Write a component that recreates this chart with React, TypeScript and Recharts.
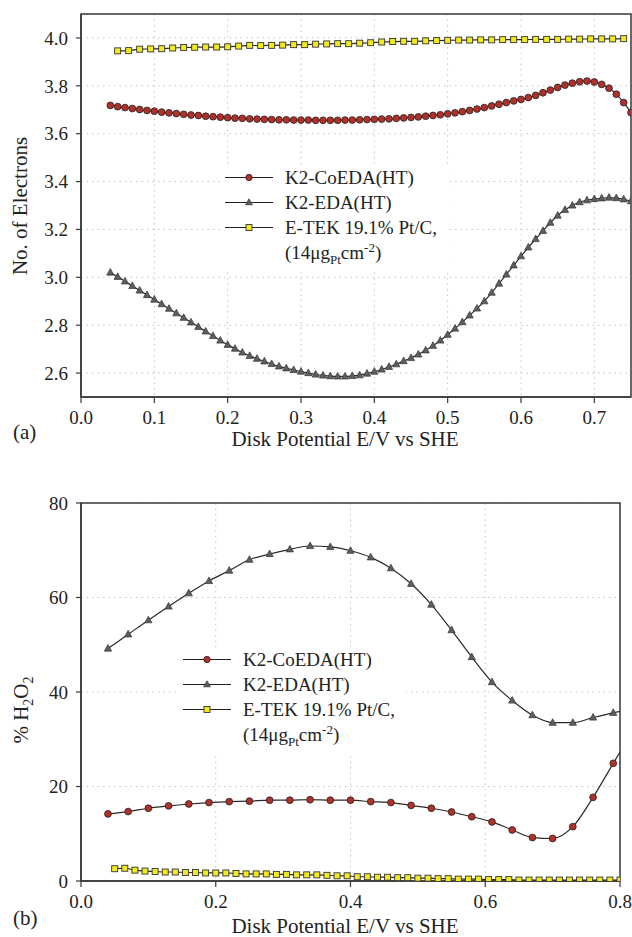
import React from 'react';
import {
  LineChart,
  Line,
  XAxis,
  YAxis,
  CartesianGrid,
  ReferenceArea,
  Legend,
} from 'recharts';

const FONT = 'Liberation Serif, Times New Roman, Times, DejaVu Serif, serif';
const INK = '#222';
const FRAME = '#3a3a3a';
const RED = '#b0302a';
const GREY = '#5e5e5e';
const YELLOW = '#f2ea1c';

// ---- panel (a): number of electrons ----
const xA = [
  0.04, 0.05, 0.06, 0.07, 0.08, 0.09, 0.1, 0.11, 0.12, 0.13,
  0.14, 0.15, 0.16, 0.17, 0.18, 0.19, 0.2, 0.21, 0.22, 0.23,
  0.24, 0.25, 0.26, 0.27, 0.28, 0.29, 0.3, 0.31, 0.32, 0.33,
  0.34, 0.35, 0.36, 0.37, 0.38, 0.39, 0.4, 0.41, 0.42, 0.43,
  0.44, 0.45, 0.46, 0.47, 0.48, 0.49, 0.5, 0.51, 0.52, 0.53,
  0.54, 0.55, 0.56, 0.57, 0.58, 0.59, 0.6, 0.61, 0.62, 0.63,
  0.64, 0.65, 0.66, 0.67, 0.68, 0.69, 0.7, 0.71, 0.72, 0.73,
  0.74, 0.75,
];
const coedaA = [
  3.718, 3.713, 3.709, 3.705, 3.701, 3.697, 3.694, 3.69, 3.687, 3.684,
  3.681, 3.678, 3.676, 3.673, 3.671, 3.669, 3.667, 3.665, 3.664, 3.662,
  3.661, 3.66, 3.659, 3.658, 3.658, 3.657, 3.657, 3.657, 3.656, 3.656,
  3.656, 3.656, 3.657, 3.657, 3.658, 3.659, 3.66, 3.661, 3.662, 3.664,
  3.666, 3.668, 3.67, 3.673, 3.676, 3.679, 3.683, 3.687, 3.692, 3.697,
  3.703, 3.709, 3.716, 3.723, 3.73, 3.737, 3.743, 3.751, 3.76, 3.771,
  3.782, 3.793, 3.803, 3.811, 3.817, 3.82, 3.816, 3.806, 3.79, 3.765,
  3.73, 3.688,
];
const edaA = [
  3.02, 3.002, 2.983, 2.964, 2.945, 2.926, 2.907, 2.888, 2.869, 2.85,
  2.831, 2.812, 2.793, 2.774, 2.755, 2.736, 2.718, 2.702, 2.686, 2.672,
  2.66, 2.649, 2.638, 2.628, 2.62, 2.613, 2.606, 2.6, 2.594, 2.59,
  2.587, 2.586, 2.586, 2.588, 2.591, 2.598, 2.606, 2.615, 2.626, 2.637,
  2.65, 2.663, 2.678, 2.695, 2.714, 2.736, 2.76, 2.786, 2.813, 2.841,
  2.87, 2.9, 2.936, 2.974, 3.012, 3.05, 3.088, 3.125, 3.16, 3.194,
  3.228, 3.258, 3.282, 3.3, 3.314, 3.322, 3.327, 3.33, 3.333, 3.331,
  3.326, 3.318,
];
const xEtekA = [
  0.05, 0.065, 0.08, 0.095, 0.11, 0.125, 0.14, 0.155, 0.17, 0.185,
  0.2, 0.215, 0.23, 0.245, 0.26, 0.275, 0.29, 0.305, 0.32, 0.335,
  0.35, 0.365, 0.38, 0.395, 0.41, 0.425, 0.44, 0.455, 0.47, 0.485,
  0.5, 0.515, 0.53, 0.545, 0.56, 0.575, 0.59, 0.605, 0.62, 0.635,
  0.65, 0.665, 0.68, 0.695, 0.71, 0.725, 0.74,
];
const etekA = [
  3.946, 3.947, 3.953, 3.954, 3.955, 3.958, 3.96, 3.961, 3.962, 3.962,
  3.963, 3.966, 3.969, 3.968, 3.969, 3.97, 3.972, 3.972, 3.974, 3.975,
  3.976, 3.976, 3.978, 3.98, 3.983, 3.985, 3.986, 3.986, 3.988, 3.989,
  3.99, 3.991, 3.991, 3.992, 3.992, 3.993, 3.993, 3.993, 3.994, 3.994,
  3.994, 3.995, 3.995, 3.996, 3.996, 3.996, 3.997,
];
const xTicksA = [0, 0.1, 0.2, 0.3, 0.4, 0.5, 0.6, 0.7];
const yTicksA = [2.6, 2.8, 3.0, 3.2, 3.4, 3.6, 3.8, 4.0];
const yMinorA = [2.7, 2.9, 3.1, 3.3, 3.5, 3.7, 3.9];

// ---- panel (b): % H2O2 ----
const xB = [
  0.04, 0.07, 0.1, 0.13, 0.16, 0.19, 0.22, 0.25, 0.28, 0.31,
  0.34, 0.37, 0.4, 0.43, 0.46, 0.49, 0.52, 0.55, 0.58, 0.61,
  0.64, 0.67, 0.7, 0.73, 0.76, 0.79, 0.82,
];
const coedaB = [
  14.2, 14.7, 15.4, 15.9, 16.3, 16.6, 16.8, 16.9, 17.1, 17.1,
  17.2, 17.1, 17.1, 16.8, 16.6, 16.0, 15.4, 14.6, 13.6, 12.5,
  10.8, 9.2, 9.0, 11.5, 17.7, 24.9, 32.0,
];
const edaB = [
  49.2, 52.2, 55.2, 58.1, 60.9, 63.5, 65.7, 68.0, 69.2, 70.2,
  70.9, 70.7, 69.9, 68.5, 66.2, 62.9, 58.5, 53.1, 47.4, 42.1,
  38.2, 35.1, 33.5, 33.5, 34.6, 35.6, 36.4,
];
const xEtekB = [
  0.05, 0.065, 0.08, 0.095, 0.11, 0.125, 0.14, 0.155, 0.17, 0.185,
  0.2, 0.215, 0.23, 0.245, 0.26, 0.275, 0.29, 0.305, 0.32, 0.335,
  0.35, 0.365, 0.38, 0.395, 0.41, 0.425, 0.44, 0.455, 0.47, 0.485,
  0.5, 0.515, 0.53, 0.545, 0.56, 0.575, 0.59, 0.605, 0.62, 0.635,
  0.65, 0.665, 0.68, 0.695, 0.71, 0.725, 0.74, 0.755, 0.77, 0.785,
  0.8,
];
const etekB = [
  2.6, 2.7, 2.3, 2.1, 2.0, 1.9, 1.9, 1.8, 1.8, 1.7,
  1.7, 1.7, 1.6, 1.5, 1.5, 1.5, 1.4, 1.4, 1.3, 1.3,
  1.3, 1.2, 1.1, 1.1, 0.9, 0.9, 0.8, 0.8, 0.7, 0.7,
  0.6, 0.6, 0.5, 0.5, 0.4, 0.4, 0.4, 0.3, 0.3, 0.3,
  0.2, 0.2, 0.2, 0.2, 0.2, 0.2, 0.2, 0.2, 0.2, 0.2,
  0.2,
];
const xTicksB = [0, 0.2, 0.4, 0.6, 0.8];
const yTicksB = [0, 20, 40, 60, 80];
const yMinorB = [10, 30, 50, 70];

const seriesNames = ['K2-CoEDA(HT)', 'K2-EDA(HT)', 'E-TEK 19.1% Pt/C,'];

const toPoints = (xs: number[], ys: number[]) => xs.map((x, i) => ({ x, y: ys[i] }));

const circleDot = { r: 3.4, fill: RED, stroke: INK, strokeWidth: 0.8 };

const triangleDot = (p: any) => (
  <path
    key={`t-${p.index}`}
    d={`M${p.cx},${p.cy - 4}L${p.cx + 3.6},${p.cy + 2.6}L${p.cx - 3.6},${p.cy + 2.6}Z`}
    fill={GREY}
    stroke="#333"
    strokeWidth={0.7}
  />
);

const squareDot = (p: any) => (
  <rect
    key={`s-${p.index}`}
    x={p.cx - 3}
    y={p.cy - 3}
    width={6}
    height={6}
    fill={YELLOW}
    stroke="#333"
    strokeWidth={0.9}
  />
);

const Marker = ({ kind }: { kind: number }) => {
  if (kind === 0) return <circle cx={27} cy={12.5} r={3.2} fill={RED} stroke={INK} strokeWidth={0.8} />;
  if (kind === 1)
    return <path d="M27,8.8L30.4,14.8L23.6,14.8Z" fill={GREY} stroke="#333" strokeWidth={0.7} />;
  return <rect x={24} y={9.5} width={6} height={6} fill={YELLOW} stroke="#333" strokeWidth={0.9} />;
};

const LegendBox = () => (
  <div style={{ background: '#fff', fontFamily: FONT, fontSize: 19, color: INK, paddingBottom: 6 }}>
    {seriesNames.map((name, i) => (
      <div key={name} style={{ display: 'flex', alignItems: 'center', height: 25, whiteSpace: 'nowrap' }}>
        <svg width={63} height={25}>
          <line x1={3} x2={51} y1={12.5} y2={12.5} stroke={INK} strokeWidth={1.2} />
          <Marker kind={i} />
        </svg>
        <span>{name}</span>
      </div>
    ))}
    <div style={{ height: 25, lineHeight: '25px', paddingLeft: 63, whiteSpace: 'nowrap' }}>
      (14μg<span style={{ fontSize: 13, position: 'relative', top: 5 }}>Pt</span>cm
      <span style={{ fontSize: 13, position: 'relative', top: -7 }}>-2</span>)
    </div>
  </div>
);

const tickStyle = { fill: INK, fontSize: 19, fontFamily: FONT };
const textStyle = { fill: INK, fontSize: 21, fontFamily: FONT };

const Panel = ({
  top, height, margin, xDomain, yDomain, xTicks, yTicks, yMinor, xFmt, yFmt,
  series, legendPos, tag, tagY, titleY, yTitle,
}: any) => (
  <div style={{ position: 'absolute', left: 0, top }}>
    <LineChart width={632} height={height} margin={margin} style={{ fontFamily: FONT }}>
      <CartesianGrid stroke="#c4c4c4" strokeDasharray="1.5 4" />
      <XAxis
        dataKey="x"
        type="number"
        domain={xDomain}
        ticks={xTicks}
        allowDataOverflow
        height={50}
        tickSize={6}
        tickMargin={8}
        axisLine={{ stroke: FRAME, strokeWidth: 1.5 }}
        tickLine={{ stroke: FRAME, strokeWidth: 1.2 }}
        tick={tickStyle}
        tickFormatter={xFmt}
        label={{
          content: () => (
            <g>
              <text x={345} y={titleY} textAnchor="middle" {...textStyle}>
                Disk Potential E/V vs SHE
              </text>
              <text x={13} y={tagY} {...textStyle}>{tag}</text>
            </g>
          ),
        }}
      />
      <YAxis
        type="number"
        domain={yDomain}
        ticks={yTicks}
        allowDataOverflow
        width={81}
        tickSize={5}
        tickMargin={8}
        axisLine={{ stroke: FRAME, strokeWidth: 1.5 }}
        tickLine={{ stroke: FRAME, strokeWidth: 1.2 }}
        tick={tickStyle}
        tickFormatter={yFmt}
        label={{ content: yTitle }}
      />
      <YAxis
        yAxisId="minorL"
        type="number"
        domain={yDomain}
        ticks={yMinor}
        allowDataOverflow
        mirror
        width={8}
        tickSize={5}
        axisLine={false}
        tick={false}
        tickLine={{ stroke: FRAME, strokeWidth: 1.2 }}
      />
      <YAxis
        yAxisId="minorR"
        orientation="right"
        type="number"
        domain={yDomain}
        ticks={yMinor}
        allowDataOverflow
        mirror
        width={8}
        tickSize={5}
        axisLine={false}
        tick={false}
        tickLine={{ stroke: FRAME, strokeWidth: 1.2 }}
      />
      <ReferenceArea
        x1={xDomain[0]}
        x2={xDomain[1]}
        y1={yDomain[0]}
        y2={yDomain[1]}
        fill="none"
        stroke={FRAME}
        strokeWidth={1.5}
      />
      {series.map((s: any) => (
        <Line
          key={s.name}
          name={s.name}
          data={s.data}
          dataKey="y"
          type="monotone"
          stroke="#2a2a2a"
          strokeWidth={1.2}
          dot={s.dot}
          activeDot={false}
          isAnimationActive={false}
        />
      ))}
      <Legend
        verticalAlign="middle"
        layout="horizontal"
        content={() => <LegendBox />}
        wrapperStyle={{ left: legendPos[0], top: legendPos[1], width: 226 }}
      />
    </LineChart>
  </div>
);

const yTitleA = () => (
  <text x={27} y={206} transform="rotate(-90, 27, 206)" textAnchor="middle" {...textStyle}>
    No. of Electrons
  </text>
);

const yTitleB = () => (
  <text x={28} y={240} transform="rotate(-90, 28, 240)" textAnchor="middle" {...textStyle}>
    % H<tspan dy={5} fontSize={14}>2</tspan>
    <tspan dy={-5}>O</tspan>
    <tspan dy={5} fontSize={14}>2</tspan>
  </text>
);

export default function App() {
  const seriesA = [
    { name: seriesNames[0], data: toPoints(xA, coedaA), dot: circleDot },
    { name: seriesNames[1], data: toPoints(xA, edaA), dot: triangleDot },
    { name: seriesNames[2], data: toPoints(xEtekA, etekA), dot: squareDot },
  ];
  const seriesB = [
    { name: seriesNames[0], data: toPoints(xB, coedaB), dot: circleDot },
    { name: seriesNames[1], data: toPoints(xB, edaB), dot: triangleDot },
    { name: seriesNames[2], data: toPoints(xEtekB, etekB), dot: squareDot },
  ];
  return (
    <div style={{ position: 'absolute', left: 0, top: 0, width: 632, height: 937, background: '#fff', fontFamily: FONT }}>
      <Panel
        top={0}
        height={470}
        margin={{ top: 14, right: 1, bottom: 23, left: 0 }}
        xDomain={[0, 0.75]}
        yDomain={[2.5, 4.1]}
        xTicks={xTicksA}
        yTicks={yTicksA}
        yMinor={yMinorA}
        xFmt={(v: number) => v.toFixed(1)}
        yFmt={(v: number) => v.toFixed(1)}
        series={seriesA}
        legendPos={[222, 165]}
        tag="(a)"
        tagY={439}
        titleY={446}
        yTitle={yTitleA}
      />
      <Panel
        top={470}
        height={467}
        margin={{ top: 33, right: 12, bottom: 6, left: 0 }}
        xDomain={[0, 0.8]}
        yDomain={[0, 80]}
        xTicks={xTicksB}
        yTicks={yTicksB}
        yMinor={yMinorB}
        xFmt={(v: number) => v.toFixed(1)}
        yFmt={(v: number) => String(v)}
        series={seriesB}
        legendPos={[180, 177]}
        tag="(b)"
        tagY={455}
        titleY={463}
        yTitle={yTitleB}
      />
    </div>
  );
}
